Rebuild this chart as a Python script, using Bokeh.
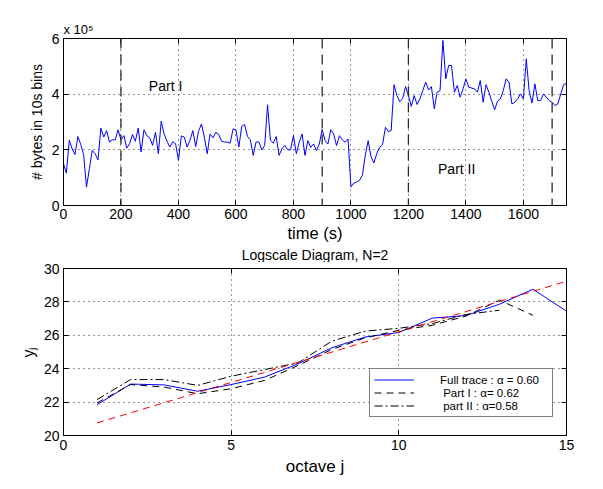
from bokeh.plotting import figure
from bokeh.layouts import column
from bokeh.models import (Range1d, LinearAxis, FixedTicker, Legend, LegendItem,
                          Span, CustomJSTickFormatter, Title)
from bokeh.core.properties import value
from bokeh.embed import file_html
from bokeh.resources import INLINE

FONT = "Liberation Sans"

# ---------------- data: top panel (bytes per 10 s bin, units of 1e5) -------------
time_s = list(range(0, 1760, 10))
bytes_e5 = [
    1.50, 1.16, 2.34, 2.04, 1.83, 2.48, 2.19, 1.83, 0.66, 1.32,
    1.98, 1.86, 1.64, 2.78, 2.46, 2.69, 2.28, 2.36, 2.36, 2.72,
    2.36, 2.51, 2.06, 2.22, 2.55, 2.31, 2.78, 1.92, 2.72, 2.51,
    2.43, 2.16, 2.63, 1.86, 3.03, 2.57, 2.31, 2.10, 2.29, 2.22,
    1.62, 2.50, 2.46, 2.10, 2.34, 2.69, 2.12, 2.67, 2.93, 2.46,
    1.86, 2.57, 2.43, 2.63, 2.55, 2.31, 2.28, 2.28, 2.24, 2.75,
    2.72, 2.10, 2.84, 2.91, 2.48, 2.36, 1.80, 2.28, 2.28, 2.00,
    2.16, 3.62, 2.34, 2.24, 2.48, 1.80, 2.04, 2.16, 2.00, 2.00,
    2.51, 1.86, 2.27, 2.57, 1.80, 2.33, 2.09, 2.21, 1.97, 2.21,
    2.73, 2.33, 2.21, 2.72, 2.57, 2.15, 2.51, 2.36, 2.27, 2.39,
    0.67, 0.81, 0.84, 0.91, 1.09, 1.81, 2.33, 1.75, 1.53, 1.87,
    2.09, 2.18, 2.81, 2.66, 2.69, 4.34, 3.95, 3.73, 3.85, 4.27,
    3.95, 3.56, 3.95, 3.63, 3.83, 4.13, 4.43, 4.15, 4.27, 3.47,
    4.07, 4.13, 5.93, 4.55, 5.03, 5.03, 4.07, 4.31, 3.89, 4.19,
    4.55, 4.25, 4.22, 4.19, 4.07, 4.49, 3.71, 4.34, 4.07, 3.75,
    3.44, 3.75, 3.83, 4.13, 4.55, 4.43, 3.65, 3.71, 3.83, 4.01,
    3.83, 5.27, 4.13, 3.68, 4.37, 3.77, 3.77, 4.01, 3.89, 3.77,
    3.71, 3.59, 3.65, 4.01, 4.34, 4.39,
]
part_bounds = [200, 900, 1200, 1700]
part_labels = ["Part I", "Part II"]
part_label_x = [297, 1303]
part_label_y = [4.3, 1.32]
top_xticks = [0, 200, 400, 600, 800, 1000, 1200, 1400, 1600]
top_yticks = [0, 2, 4, 6]

# ---------------- data: bottom panel (logscale diagram) ----------------
octave = list(range(1, 16))
y_full = [21.84, 23.08, 23.03, 22.65, 23.05, 23.50, 24.30, 25.25, 25.90,
          26.17, 27.03, 27.18, 27.86, 28.76, 27.44]
octave_p1 = list(range(1, 15))
y_part1 = [21.95, 23.05, 22.90, 22.50, 22.80, 23.30, 24.20, 25.15, 25.85,
           26.30, 26.60, 27.15, 28.10, 27.20]
octave_p2 = list(range(1, 14))
y_part2 = [22.15, 23.35, 23.35, 23.00, 23.55, 23.95, 24.35, 25.65, 26.25,
           26.42, 26.70, 27.25, 27.50]
fit_j = [1, 15]
fit_y = [20.75, 29.24]
bot_xticks = [0, 5, 10, 15]
bot_yticks = [20, 22, 24, 26, 28, 30]
legend_labels = ["Full trace : \u03b1 = 0.60", " Part I : \u03b1= 0.62", " part II : \u03b1=0.58"]
bottom_title = "Logscale Diagram, N=2"


def style_axis(ax):
    ax.major_tick_in = 5
    ax.major_tick_out = 0
    ax.minor_tick_line_color = None
    ax.axis_line_color = "black"
    ax.major_tick_line_color = "black"
    ax.major_label_text_font = FONT
    ax.major_label_text_font_size = "14px"
    ax.major_label_text_color = "black"
    ax.axis_label_text_font = FONT
    ax.axis_label_text_font_style = "normal"
    ax.axis_label_text_color = "black"
    ax.major_label_standoff = 4
    ax.axis_label_standoff = 4


def make_fig(xr, yr, xticks, yticks, top_b, bot_b, title):
    p = figure(frame_width=503, frame_height=167, x_range=xr, y_range=yr,
               output_backend="svg", toolbar_location=None, title=title,
               min_border_left=63, min_border_right=29,
               min_border_top=top_b, min_border_bottom=bot_b,
               background_fill_color="white", border_fill_color="white")
    p.outline_line_color = "black"
    p.outline_line_width = 1
    xax = p.xaxis[0]
    yax = p.yaxis[0]
    style_axis(xax)
    style_axis(yax)
    xax.ticker = FixedTicker(ticks=xticks)
    yax.ticker = FixedTicker(ticks=yticks)
    for loc, tk in (("above", xticks), ("right", yticks)):
        ax = LinearAxis(ticker=FixedTicker(ticks=tk), major_tick_in=5, major_tick_out=0,
                        minor_tick_line_color=None,
                        formatter=CustomJSTickFormatter(code="return ''"),
                        major_label_standoff=0, axis_line_color="black")
        p.add_layout(ax, loc)
    p.xgrid.ticker = FixedTicker(ticks=xticks)
    p.ygrid.ticker = FixedTicker(ticks=yticks)
    for g in (p.xgrid[0], p.ygrid[0]):
        g.grid_line_color = "#333333"
        g.grid_line_dash = "1 4"
        g.grid_line_width = 1
    if p.title is not None:
        p.title.text_font = FONT
        p.title.text_font_style = "normal"
        p.title.text_color = "black"
    return p, xax, yax


# ---------------- top panel ----------------
p1, p1x, p1y = make_fig(Range1d(0, 1750), Range1d(0, 6), top_xticks, top_yticks, 38, 50,
                        "x 10\u2075")
p1.title.align = "left"
p1.title.text_font_size = "13px"
p1.title.standoff = 3
p1x.axis_label = "time (s)"
p1x.axis_label_text_font_size = "16.5px"
p1x.major_label_standoff = 3
p1x.axis_label_standoff = 2
p1y.axis_label = "# bytes in 10s bins"
p1y.axis_label_text_font_size = "14px"
# title of the lower panel, placed in the gap under the upper panel's x label
p1.add_layout(Title(text=bottom_title, align="center", text_font=FONT,
                    text_font_size="14px", text_font_style="normal",
                    text_color="black", standoff=0), "below")

for b in part_bounds:
    p1.add_layout(Span(location=b, dimension="height", line_color="#2a2a2a",
                       line_dash="10 6", line_width=1.3))
p1.line(time_s, bytes_e5, line_color="#0000ff", line_width=1)
p1.text(x=part_label_x, y=part_label_y, text=part_labels, text_font=value(FONT),
        text_font_size="14px", text_color="black", text_baseline="alphabetic",
        text_align="left")

# ---------------- bottom panel ----------------
p2, p2x, p2y = make_fig(Range1d(0, 15), Range1d(20, 30), bot_xticks, bot_yticks, 6, 46,
                        None)
p2x.axis_label = "octave j"
p2x.axis_label_text_font_size = "17px"
p2y.axis_label = "y\u2c7c"
p2y.axis_label_text_font_size = "16px"

r_full = p2.line(octave, y_full, line_color="#0000ff", line_width=1)
r_p1 = p2.line(octave_p1, y_part1, line_color="black", line_width=1, line_dash="7 5")
r_p2 = p2.line(octave_p2, y_part2, line_color="black", line_width=1, line_dash="8 3 2 3")
p2.line(fit_j, fit_y, line_color="#ff0000", line_width=1, line_dash="7 5")

legend = Legend(items=[LegendItem(label=legend_labels[0], renderers=[r_full]),
                       LegendItem(label=legend_labels[1], renderers=[r_p1]),
                       LegendItem(label=legend_labels[2], renderers=[r_p2])],
                location=(306, 18), glyph_width=40, glyph_height=13, label_height=13,
                label_standoff=26, spacing=0, padding=4, margin=0, label_width=108,
                border_line_color="black", border_line_width=1,
                background_fill_color="white", background_fill_alpha=1,
                label_text_font=FONT, label_text_font_size="11.5px",
                label_text_color="black")
p2.add_layout(legend)

layout = column(p1, p2, spacing=0)
open("out.html", "w").write(file_html(layout, INLINE))
